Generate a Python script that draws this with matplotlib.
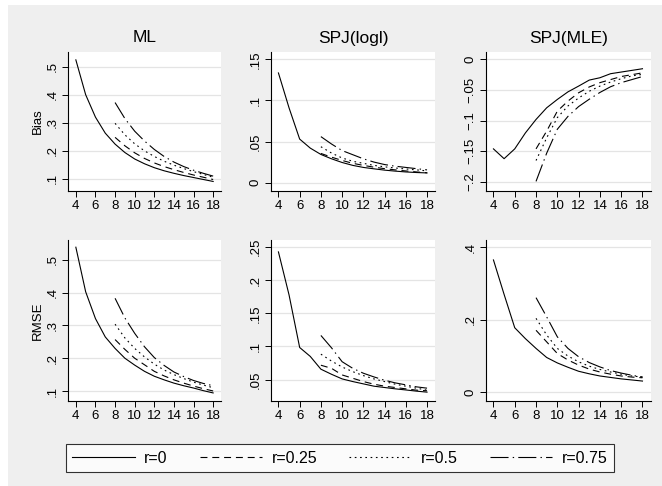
import matplotlib
matplotlib.use("Agg")
import matplotlib.pyplot as plt
from matplotlib.lines import Line2D
from matplotlib.patches import Rectangle

W, H = 662, 486

# sample sizes on the x axis
n_all = [4, 5, 6, 7, 8, 9, 10, 11, 12, 13, 14, 15, 16, 17, 18]
n_sub = [8, 9, 10, 11, 12, 13, 14, 15, 16, 17, 18]

# ML, bias
ml_bias_r0 = [0.524, 0.400, 0.320, 0.263, 0.224, 0.194, 0.171, 0.154, 0.140, 0.129, 0.120, 0.112, 0.105, 0.098, 0.091]
ml_bias_r25 = [0.248, 0.218, 0.193, 0.173, 0.157, 0.144, 0.133, 0.123, 0.114, 0.106, 0.098]
ml_bias_r50 = [0.298, 0.257, 0.225, 0.200, 0.180, 0.163, 0.149, 0.137, 0.126, 0.116, 0.106]
ml_bias_r75 = [0.372, 0.315, 0.270, 0.235, 0.205, 0.180, 0.160, 0.144, 0.131, 0.120, 0.110]

# SPJ(logl), bias
spjl_bias_r0 = [0.1335, 0.091, 0.053, 0.042, 0.0343, 0.029, 0.0245, 0.021, 0.0185, 0.0168, 0.0152, 0.014, 0.013, 0.0123, 0.0118]
spjl_bias_r25 = [0.0355, 0.031, 0.027, 0.0235, 0.021, 0.0188, 0.017, 0.0155, 0.0142, 0.013, 0.012]
spjl_bias_r50 = [0.0437, 0.036, 0.030, 0.026, 0.0235, 0.021, 0.0192, 0.0178, 0.0166, 0.0155, 0.0143]
spjl_bias_r75 = [0.056, 0.047, 0.039, 0.034, 0.029, 0.025, 0.022, 0.020, 0.0185, 0.017, 0.0155]

# SPJ(MLE), bias
spjm_bias_r0 = [-0.146, -0.162, -0.146, -0.120, -0.098, -0.079, -0.0654, -0.053, -0.0436, -0.0338, -0.030, -0.0234, -0.0207, -0.018, -0.0153]
spjm_bias_r25 = [-0.146, -0.117, -0.0845, -0.068, -0.0545, -0.045, -0.038, -0.033, -0.028, -0.025, -0.022]
spjm_bias_r50 = [-0.165, -0.128, -0.095, -0.076, -0.063, -0.052, -0.0436, -0.037, -0.0316, -0.027, -0.0245]
spjm_bias_r75 = [-0.199, -0.153, -0.114, -0.093, -0.077, -0.065, -0.054, -0.0447, -0.038, -0.033, -0.028]

# ML, RMSE
ml_rmse_r0 = [0.539, 0.403, 0.321, 0.265, 0.230, 0.200, 0.179, 0.160, 0.145, 0.134, 0.124, 0.116, 0.109, 0.101, 0.094]
ml_rmse_r25 = [0.257, 0.227, 0.200, 0.180, 0.160, 0.146, 0.134, 0.124, 0.115, 0.107, 0.100]
ml_rmse_r50 = [0.304, 0.262, 0.230, 0.204, 0.182, 0.164, 0.150, 0.138, 0.127, 0.118, 0.110]
ml_rmse_r75 = [0.383, 0.323, 0.276, 0.235, 0.202, 0.178, 0.158, 0.144, 0.132, 0.123, 0.116]

# SPJ(logl), RMSE
spjl_rmse_r0 = [0.243, 0.178, 0.0985, 0.085, 0.0657, 0.058, 0.051, 0.047, 0.0435, 0.040, 0.038, 0.036, 0.0343, 0.0325, 0.031]
spjl_rmse_r25 = [0.0717, 0.067, 0.057, 0.052, 0.047, 0.043, 0.040, 0.038, 0.036, 0.034, 0.033]
spjl_rmse_r50 = [0.0884, 0.078, 0.069, 0.062, 0.056, 0.051, 0.047, 0.043, 0.040, 0.037, 0.034]
spjl_rmse_r75 = [0.1167, 0.098, 0.077, 0.067, 0.0596, 0.054, 0.049, 0.045, 0.042, 0.039, 0.037]

# SPJ(MLE), RMSE
spjm_rmse_r0 = [0.365, 0.270, 0.178, 0.148, 0.121, 0.096, 0.081, 0.069, 0.058, 0.051, 0.045, 0.041, 0.037, 0.034, 0.031]
spjm_rmse_r25 = [0.171, 0.139, 0.107, 0.089, 0.075, 0.064, 0.056, 0.050, 0.045, 0.042, 0.040]
spjm_rmse_r50 = [0.204, 0.158, 0.121, 0.100, 0.084, 0.072, 0.063, 0.056, 0.050, 0.045, 0.042]
spjm_rmse_r75 = [0.261, 0.208, 0.153, 0.121, 0.098, 0.082, 0.070, 0.060, 0.053, 0.047, 0.042]

col_titles = ["ML", "SPJ(logl)", "SPJ(MLE)"]
row_labels = ["Bias", "RMSE"]
series_labels = ["r=0", "r=0.25", "r=0.5", "r=0.75"]
x_ticks = [4, 6, 8, 10, 12, 14, 16, 18]

bias_yticks = [
    [0.1, 0.2, 0.3, 0.4, 0.5],
    [0, 0.05, 0.1, 0.15],
    [-0.2, -0.15, -0.1, -0.05, 0],
]
rmse_yticks = [
    [0.1, 0.2, 0.3, 0.4, 0.5],
    [0.05, 0.1, 0.15, 0.2, 0.25],
    [0, 0.2, 0.4],
]

panels = [
    [(ml_bias_r0, ml_bias_r25, ml_bias_r50, ml_bias_r75),
     (spjl_bias_r0, spjl_bias_r25, spjl_bias_r50, spjl_bias_r75),
     (spjm_bias_r0, spjm_bias_r25, spjm_bias_r50, spjm_bias_r75)],
    [(ml_rmse_r0, ml_rmse_r25, ml_rmse_r50, ml_rmse_r75),
     (spjl_rmse_r0, spjl_rmse_r25, spjl_rmse_r50, spjl_rmse_r75),
     (spjm_rmse_r0, spjm_rmse_r25, spjm_rmse_r50, spjm_rmse_r75)],
]
yticks = [bias_yticks, rmse_yticks]

# layout in pixels (left, right) per column, (top, bottom) per row
col_px = [(68, 221), (271, 435), (486, 651)]
row_px = [(52, 191), (240, 401)]
xlims = [(3.2, 18.8), (3.3, 18.75), (3.3, 18.8)]
ylims = [
    [(0.057, 0.552), (-0.0102, 0.159), (-0.2147, 0.012)],
    [(0.0694, 0.561), (0.0176, 0.261), (-0.024, 0.420)],
]

line_styles = ["-", (0, (5, 3.5)), (0, (1.2, 2.6)), (0, (13, 3, 1, 3))]
bg_color = "#EFEFEF"
grid_color = "#E4E4E4"

plt.rcParams["font.family"] = ["Liberation Sans", "DejaVu Sans"]
plt.rcParams["lines.scale_dashes"] = False


def stata_fmt(v):
    if abs(v) < 1e-12:
        return "0"
    s = f"{v:g}"
    s = s.replace("0.", ".", 1)
    return s.replace("-", "\u2212")


def px_axes(fig, left, right, top, bottom):
    return fig.add_axes([left / W, 1 - bottom / H, (right - left) / W, (bottom - top) / H])


fig = plt.figure(figsize=(W / 100, H / 100), dpi=100)
fig.patch.set_facecolor("white")
fig.add_artist(Rectangle((8 / W, 0), 1, 1 - 5 / H, transform=fig.transFigure,
                         facecolor=bg_color, edgecolor="none", zorder=0))

for r in range(2):
    for c in range(3):
        left, right = col_px[c]
        top, bottom = row_px[r]
        ax = px_axes(fig, left, right, top, bottom)
        ax.set_facecolor("white")

        data = panels[r][c]
        for k, ys in enumerate(data):
            xs = n_all if k == 0 else n_sub
            ax.plot(xs, ys, color="black", lw=0.8, linestyle=line_styles[k])

        ax.set_xlim(*xlims[c])
        ax.set_ylim(*ylims[r][c])
        ax.set_xticks(x_ticks)
        ax.set_yticks(yticks[r][c])
        ax.set_yticklabels([stata_fmt(v) for v in yticks[r][c]],
                           rotation=90, va="center")
        ax.tick_params(axis="both", direction="out", length=4, width=0.7,
                       labelsize=9.5, pad=2.5)
        ax.tick_params(axis="y", pad=3)
        ax.grid(axis="y", color=grid_color, lw=0.9)
        ax.set_axisbelow(True)
        for side in ["top", "right"]:
            ax.spines[side].set_visible(False)
        for side in ["left", "bottom"]:
            ax.spines[side].set_linewidth(0.8)

        if r == 0:
            fig.text((left + right) / 2 / W, 1 - 38 / H, col_titles[c],
                     ha="center", va="center", fontsize=12.5)

    fig.text(38 / W, 1 - (row_px[r][0] + row_px[r][1]) / 2 / H, row_labels[r],
             rotation=90, ha="center", va="center", fontsize=9.5)

handles = [Line2D([], [], color="black", lw=0.8, linestyle=ls) for ls in line_styles]
leg = fig.legend(handles, series_labels, ncol=4, loc="center",
                 bbox_to_anchor=(340 / W, 1 - 458 / H), frameon=True,
                 fancybox=False, fontsize=11.5, handlelength=3.9,
                 handletextpad=0.6, columnspacing=2.0, borderpad=0.4)
leg.get_frame().set_edgecolor("black")
leg.get_frame().set_linewidth(0.8)
leg.get_frame().set_facecolor("white")

fig.savefig("out.png", dpi=100, facecolor=fig.get_facecolor())
